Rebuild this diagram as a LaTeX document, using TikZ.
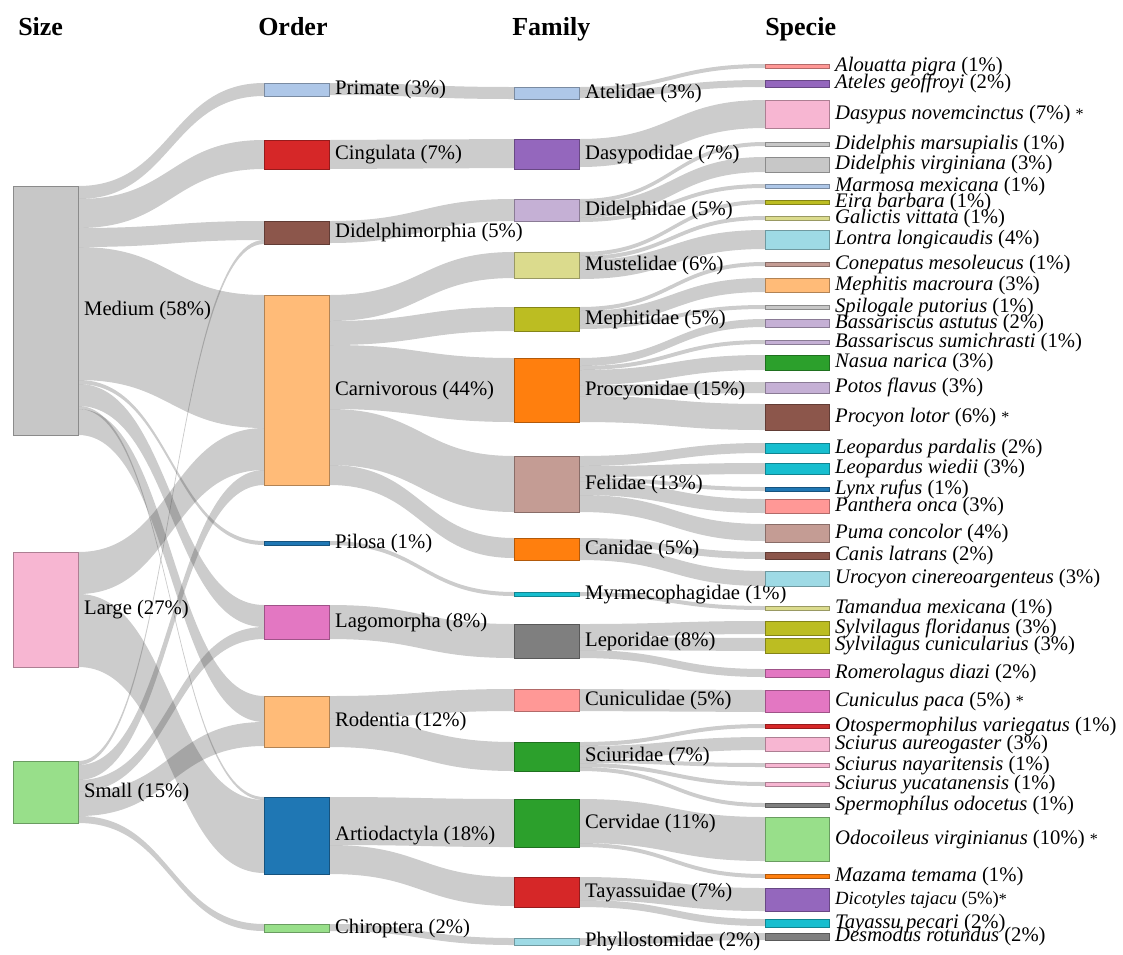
\documentclass[tikz,border=0pt]{standalone}
\usepackage{fontspec}
\setmainfont{Liberation Serif}
\usetikzlibrary{positioning,calc,backgrounds}

\definecolor{tblue}{HTML}{1F77B4}
\definecolor{tblueL}{HTML}{AEC7E8}
\definecolor{torange}{HTML}{FF7F0E}
\definecolor{torangeL}{HTML}{FFBB78}
\definecolor{tgreen}{HTML}{2CA02C}
\definecolor{tgreenL}{HTML}{98DF8A}
\definecolor{tred}{HTML}{D62728}
\definecolor{tredL}{HTML}{FF9896}
\definecolor{tpurple}{HTML}{9467BD}
\definecolor{tpurpleL}{HTML}{C5B0D5}
\definecolor{tbrown}{HTML}{8C564B}
\definecolor{tbrownL}{HTML}{C49C94}
\definecolor{tpink}{HTML}{E377C2}
\definecolor{tpinkL}{HTML}{F7B6D2}
\definecolor{tgray}{HTML}{7F7F7F}
\definecolor{tgrayL}{HTML}{C7C7C7}
\definecolor{tolive}{HTML}{BCBD22}
\definecolor{toliveL}{HTML}{DBDB8D}
\definecolor{tcyan}{HTML}{17BECF}
\definecolor{tcyanL}{HTML}{9EDAE5}

% band from source (offset, right side) to target (offset, left side), width #5
\newcommand{\sankeyband}[5]{%
  \path (#1.north east) ++(0,#2) coordinate (s1) ++(0,#5) coordinate (s2);
  \path (#3.north west) ++(0,#4) coordinate (t1) ++(0,#5) coordinate (t2);
  \path ($(s1)!.5!(t1)$) coordinate (m);
  \fill[band] (s1) .. controls (m |- s1) and (m |- t1) .. (t1) -- (t2)
    .. controls (m |- t2) and (m |- s2) .. (s2) -- cycle;}
\newcommand{\starmark}{{\fontsize{12}{14}\selectfont *}}

\begin{document}
\begin{tikzpicture}[x=0.75pt, y=-0.75pt,
    bar/.style={draw=#1!70!black, fill=#1, line width=0.4pt, anchor=north west,
                inner sep=0pt, minimum width=48.75pt},
    ht/.style={minimum height=#1*0.75pt},
    lbl/.style={font=\fontsize{15.5}{17}\selectfont, inner sep=0pt, anchor=west},
    head/.style={font=\fontsize{19.5}{22}\selectfont\bfseries, inner sep=0pt,
                 anchor=base west},
    band/.style={fill=black!80, fill opacity=0.25}]

  \useasboundingbox (0,0) rectangle (1123,954);

  %% Column headers
  \node[head] (h-size)   at (18,35)  {Size};
  \node[head] (h-order)  at (258,35) {Order};
  \node[head] (h-family) at (512,35) {Family};
  \node[head] (h-specie) at (765,35) {Specie};

  %% ── Size ─────────────────────────────────────────────
  \foreach \nm/\yy/\hh/\cl/\tx in {
      medium/186/249/tgrayL/{Medium (58\%)},
      large/552/115/tpinkL/{Large (27\%)},
      small/761/62/tgreenL/{Small (15\%)}}{
    \node[bar=\cl, ht=\hh] (\nm) at (13,\yy) {};
    \node[lbl, right=4pt of \nm] (\nm-t) {\tx};
  }

  %% ── Order ────────────────────────────────────────────
  \foreach \nm/\yy/\hh/\cl/\tx in {
      primate/83/13/tblueL/{Primate (3\%)},
      cingulata/140/29/tred/{Cingulata (7\%)},
      didelphimorphia/221/23/tbrown/{Didelphimorphia (5\%)},
      carnivorous/295/190/torangeL/{Carnivorous (44\%)},
      pilosa/541/4/tblue/{Pilosa (1\%)},
      lagomorpha/605/34/tpink/{Lagomorpha (8\%)},
      rodentia/696/51/torangeL/{Rodentia (12\%)},
      artiodactyla/797/77/tblue/{Artiodactyla (18\%)},
      chiroptera/924/8/tgreenL/{Chiroptera (2\%)}}{
    \node[bar=\cl, ht=\hh] (\nm) at (264,\yy) {};
    \node[lbl, right=4pt of \nm] (\nm-t) {\tx};
  }

  %% ── Family ───────────────────────────────────────────
  \foreach \nm/\yy/\hh/\cl/\tx in {
      atelidae/87/12/tblueL/{Atelidae (3\%)},
      dasypodidae/139/30/tpurple/{Dasypodidae (7\%)},
      didelphidae/199/22/tpurpleL/{Didelphidae (5\%)},
      mustelidae/252/26/toliveL/{Mustelidae (6\%)},
      mephitidae/307/24/tolive/{Mephitidae (5\%)},
      procyonidae/358/64/torange/{Procyonidae (15\%)},
      felidae/456/56/tbrownL/{Felidae (13\%)},
      canidae/538/22/torange/{Canidae (5\%)},
      myrmecophagidae/592/4/tcyan/{Myrmecophagidae (1\%)},
      leporidae/624/34/tgray/{Leporidae (8\%)},
      cuniculidae/689/22/tredL/{Cuniculidae (5\%)},
      sciuridae/742/29/tgreen/{Sciuridae (7\%)},
      cervidae/799/48/tgreen/{Cervidae (11\%)},
      tayassuidae/877/30/tred/{Tayassuidae (7\%)},
      phyllostomidae/938/7/tcyanL/{Phyllostomidae (2\%)}}{
    \node[bar=\cl, ht=\hh] (\nm) at (514,\yy) {};
    \node[lbl, right=4pt of \nm] (\nm-t) {\tx};
  }

  %% ── Specie ───────────────────────────────────────────
  \foreach \nm/\yy/\hh/\cl/\tx in {
      alouatta/64/4/tredL/{\textit{Alouatta pigra} (1\%)},
      ateles/80/7/tpurple/{\textit{Ateles geoffroyi} (2\%)},
      dasypus/100/28/tpinkL/{\textit{Dasypus novemcinctus} (7\%) \starmark},
      dmarsupialis/142/4/tgrayL/{\textit{Didelphis marsupialis} (1\%)},
      dvirginiana/157/15/tgrayL/{\textit{Didelphis virginiana} (3\%)},
      marmosa/184/4/tblueL/{\textit{Marmosa mexicana} (1\%)},
      eira/200/4/tolive/{\textit{Eira barbara} (1\%)},
      galictis/216/4/toliveL/{\textit{Galictis vittata} (1\%)},
      lontra/230/19/tcyanL/{\textit{Lontra longicaudis} (4\%)},
      conepatus/262/4/tbrownL/{\textit{Conepatus mesoleucus} (1\%)},
      mephitis/278/14/torangeL/{\textit{Mephitis macroura} (3\%)},
      spilogale/305/4/tgrayL/{\textit{Spilogale putorius} (1\%)},
      bastutus/319/8/tpurpleL/{\textit{Bassariscus astutus} (2\%)},
      bsumichrasti/340/4/tpurpleL/{\textit{Bassariscus sumichrasti} (1\%)},
      nasua/355/15/tgreen/{\textit{Nasua narica} (3\%)},
      potos/382/11/tpurpleL/{\textit{Potos flavus} (3\%)},
      procyon/404/26/tbrown/{\textit{Procyon lotor} (6\%) \starmark},
      lpardalis/443/10/tcyan/{\textit{Leopardus pardalis} (2\%)},
      lwiedii/463/11/tcyan/{\textit{Leopardus wiedii} (3\%)},
      lynx/487/4/tblue/{\textit{Lynx rufus} (1\%)},
      panthera/499/14/tredL/{\textit{Panthera onca} (3\%)},
      puma/524/18/tbrownL/{\textit{Puma concolor} (4\%)},
      canis/552/7/tbrown/{\textit{Canis latrans} (2\%)},
      urocyon/571/15/tcyanL/{\textit{Urocyon cinereoargenteus} (3\%)},
      tamandua/606/4/toliveL/{\textit{Tamandua mexicana} (1\%)},
      sfloridanus/621/14/tolive/{\textit{Sylvilagus floridanus} (3\%)},
      scunicularius/638/15/tolive/{\textit{Sylvilagus cunicularius} (3\%)},
      romerolagus/669/8/tpink/{\textit{Romerolagus diazi} (2\%)},
      cuniculus/690/22/tpink/{\textit{Cuniculus paca} (5\%) \starmark},
      otospermophilus/724/4/tred/{\textit{Otospermophilus variegatus} (1\%)},
      saureogaster/737/14/tpinkL/{\textit{Sciurus aureogaster} (3\%)},
      snayaritensis/763/4/tpinkL/{\textit{Sciurus nayaritensis} (1\%)},
      syucatanensis/782/4/tpinkL/{\textit{Sciurus yucatanensis} (1\%)},
      spermophilus/803/4/tgray/{\textit{Spermophílus odocetus} (1\%)},
      odocoileus/817/44/tgreenL/{\textit{Odocoileus virginianus} (10\%) \starmark},
      mazama/874/4/torange/{\textit{Mazama temama} (1\%)},
      dicotyles/888/23/tpurple/{\fontsize{14}{16}\selectfont\textit{Dicotyles tajacu} (5\%)\starmark},
      tayassu/919/8/tcyan/{\textit{Tayassu pecari} (2\%)},
      desmodus/933/7/tgray/{\textit{Desmodus rotundus} (2\%)}}{
    \node[bar=\cl, ht=\hh, minimum width=48pt] (\nm) at (765,\yy) {};
    \node[lbl, right=4pt of \nm] (\nm-t) {\tx};
  }

  %% ── Flows (under the bars) ───────────────────────────
  \begin{scope}[on background layer]
    \foreach \src/\sof/\tgt/\tof/\wd in {
        medium/0/primate/0/13, medium/13/cingulata/0/29,
        medium/42/didelphimorphia/0/19, medium/61/carnivorous/0/133,
        medium/194/pilosa/0/4, medium/198/lagomorpha/0/22,
        medium/220/artiodactyla/0/3, medium/223/rodentia/0/26,
        large/0/carnivorous/133/42, large/42/artiodactyla/3/73,
        small/0/didelphimorphia/19/4, small/4/carnivorous/175/15,
        small/19/lagomorpha/22/12, small/31/rodentia/26/24,
        small/55/chiroptera/0/7}{
      \sankeyband{\src}{\sof}{\tgt}{\tof}{\wd}
    }
    \foreach \src/\sof/\tgt/\tof/\wd in {
        primate/0/atelidae/0/12, cingulata/0/dasypodidae/0/29,
        didelphimorphia/0/didelphidae/0/22,
        carnivorous/0/mustelidae/0/26, carnivorous/26/mephitidae/0/24,
        carnivorous/50/procyonidae/0/64, carnivorous/114/felidae/0/56,
        carnivorous/170/canidae/0/20, pilosa/0/myrmecophagidae/0/4,
        lagomorpha/0/leporidae/0/34, rodentia/0/cuniculidae/0/22,
        rodentia/22/sciuridae/0/29, artiodactyla/0/cervidae/0/48,
        artiodactyla/48/tayassuidae/0/29, chiroptera/0/phyllostomidae/0/7}{
      \sankeyband{\src}{\sof}{\tgt}{\tof}{\wd}
    }
    \foreach \src/\sof/\tgt/\tof/\wd in {
        atelidae/0/alouatta/0/4, atelidae/4/ateles/0/7,
        dasypodidae/0/dasypus/0/28,
        didelphidae/0/dmarsupialis/0/4, didelphidae/4/dvirginiana/0/15,
        didelphidae/19/marmosa/0/4,
        mustelidae/0/eira/0/4, mustelidae/4/galictis/0/4,
        mustelidae/8/lontra/0/19,
        mephitidae/0/conepatus/0/4, mephitidae/4/mephitis/0/14,
        mephitidae/18/spilogale/0/4,
        procyonidae/0/bastutus/0/8, procyonidae/8/bsumichrasti/0/4,
        procyonidae/12/nasua/0/15, procyonidae/27/potos/0/11,
        procyonidae/38/procyon/0/26,
        felidae/0/lpardalis/0/10, felidae/10/lwiedii/0/11,
        felidae/21/lynx/0/4, felidae/25/panthera/0/14, felidae/39/puma/0/17,
        canidae/0/canis/0/7, canidae/7/urocyon/0/15,
        myrmecophagidae/0/tamandua/0/4,
        leporidae/0/sfloridanus/0/13, leporidae/13/scunicularius/0/13,
        leporidae/26/romerolagus/0/8,
        cuniculidae/0/cuniculus/0/22,
        sciuridae/0/otospermophilus/0/4, sciuridae/4/saureogaster/0/13,
        sciuridae/17/snayaritensis/0/4, sciuridae/21/syucatanensis/0/4,
        sciuridae/25/spermophilus/0/4,
        cervidae/0/odocoileus/0/44, cervidae/44/mazama/0/4,
        tayassuidae/0/dicotyles/0/23, tayassuidae/23/tayassu/0/7,
        phyllostomidae/0/desmodus/0/7}{
      \sankeyband{\src}{\sof}{\tgt}{\tof}{\wd}
    }
  \end{scope}

\end{tikzpicture}
\end{document}
